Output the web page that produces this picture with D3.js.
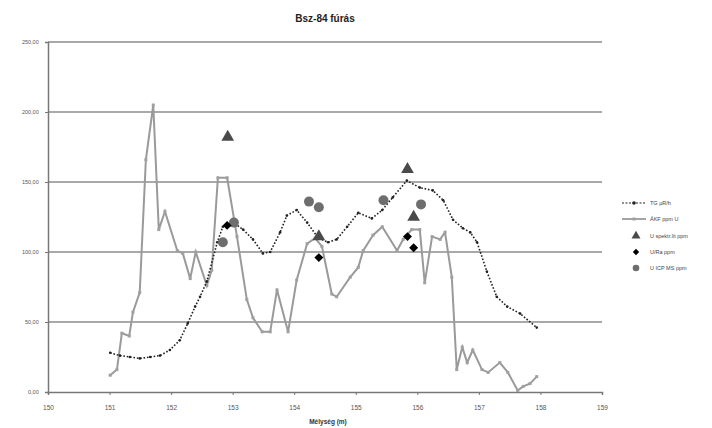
<!DOCTYPE html>
<html><head><meta charset="utf-8">
<script src="https://cdn.jsdelivr.net/npm/d3@7"></script>
<style>body{margin:0;background:#fff}svg{font-family:"Liberation Sans",Arial,sans-serif}</style>
</head><body><svg id="c" width="712" height="428"></svg>
<script>
const title = "Bsz-84 fúrás";
const xTitle = "Mélység (m)";
const xTicks = [150,151,152,153,154,155,156,157,158,159];
const yTicks = [0,50,100,150,200,250];
const seriesNames = ["TG  µR/h","ÁKF ppm U","U spektr.lit ppm","U/Ra     ppm","U ICP MS ppm"];

const tgDepth = [151.01,151.17,151.33,151.49,151.66,151.82,151.98,152.14,152.27,152.39,152.47,152.58,152.75,152.84,153.01,153.17,153.33,153.49,153.61,153.77,153.88,154.04,154.21,154.39,154.55,154.69,154.86,155.04,155.26,155.43,155.60,155.83,156.04,156.25,156.42,156.58,156.74,156.86,156.97,157.13,157.29,157.46,157.67,157.94];
const tgVal   = [28,26,25,24,25,26,30,37,49,61,68,79,107,118,121,116,109,99,100,114,126,130,121,110,107,109,118,128,124,130,139,151,146,144,137,123,117,114,107,86,68,61,56,46];

const akfDepth = [151.01,151.12,151.20,151.32,151.38,151.49,151.59,151.71,151.80,151.90,152.10,152.19,152.31,152.40,152.58,152.66,152.76,152.91,153.07,153.23,153.33,153.48,153.61,153.72,153.90,154.04,154.21,154.34,154.45,154.61,154.69,154.91,155.04,155.12,155.28,155.43,155.67,155.77,155.91,156.04,156.12,156.24,156.37,156.45,156.56,156.64,156.73,156.81,156.90,157.05,157.15,157.34,157.47,157.63,157.72,157.83,157.94];
const akfVal   = [12,16,42,40,57,71,166,205,116,129,101,99,81,100,76,87,153,153,111,66,53,43,43,73,43,80,106,110,104,70,68,82,89,101,112,118,101,109,116,116,78,111,109,114,82,16,32,21,30,16,14,21,14,1,4,6,11];

const triDepth = [152.92,154.40,155.84,155.94];
const triVal   = [182,111,159,125];
const diaDepth = [152.91,154.40,155.84,155.94];
const diaVal   = [119,96,111,103];
const cirDepth = [152.84,153.02,154.24,154.40,155.45,156.06];
const cirVal   = [107,121,136,132,137,134];

const svg = d3.select("#c");
const x = d3.scaleLinear().domain([150,159]).range([48,602]);
const y = d3.scaleLinear().domain([0,250]).range([392,42]);

// grid
svg.append("g").selectAll("line").data(yTicks.filter(d=>d>0)).join("line")
  .attr("x1",x(150)).attr("x2",x(159)).attr("y1",d=>y(d)).attr("y2",d=>y(d))
  .attr("stroke","#8c8c8c").attr("stroke-width",1.5);

// axes
const xa = svg.append("g").attr("transform",`translate(0,${y(0)})`)
  .call(d3.axisBottom(x).tickValues(xTicks).tickSize(3).tickFormat(d3.format("d")));
xa.select(".domain").attr("stroke","#777").attr("stroke-width",1.5);
xa.selectAll(".tick line").attr("stroke","#777");
xa.selectAll("text").attr("font-size",6.5).attr("fill","#555").attr("dy","1.8em");
const ya = svg.append("g").attr("transform",`translate(${x(150)},0)`)
  .call(d3.axisLeft(y).tickValues(yTicks).tickSize(3).tickFormat(d=>d3.format(".2f")(d).replace(".",",")));
ya.select(".domain").attr("stroke","#777").attr("stroke-width",1.5);
ya.selectAll(".tick line").attr("stroke","#777");
ya.selectAll("text").attr("font-size",5.5).attr("fill","#555").attr("dx","-0.6em");

// title
svg.append("text").attr("x",325).attr("y",22).attr("text-anchor","middle")
  .attr("font-size",10).attr("font-weight","bold").attr("fill","#222").text(title);
svg.append("text").attr("x",328).attr("y",424).attr("text-anchor","middle")
  .attr("font-size",6.5).attr("font-weight","bold").attr("fill","#333").text(xTitle);

const line = d3.line().x(d=>x(d[0])).y(d=>y(d[1]));
const akf = akfDepth.map((d,i)=>[d,akfVal[i]]);
const tg = tgDepth.map((d,i)=>[d,tgVal[i]]);

svg.append("path").datum(akf).attr("d",line).attr("fill","none")
  .attr("stroke","#9a9a9a").attr("stroke-width",2);
svg.append("g").selectAll("rect").data(akf).join("rect")
  .attr("x",d=>x(d[0])-1.5).attr("y",d=>y(d[1])-1.5).attr("width",3).attr("height",3).attr("fill","#a0a0a0");

svg.append("path").datum(tg).attr("d",line).attr("fill","none")
  .attr("stroke","#222").attr("stroke-width",1.6).attr("stroke-dasharray","1.6,1.8");
svg.append("g").selectAll("circle").data(tg).join("circle")
  .attr("cx",d=>x(d[0])).attr("cy",d=>y(d[1])).attr("r",1.3).attr("fill","#222");

const tri = d3.symbol().type(d3.symbolTriangle).size(70);
const sq = d3.symbol().type(d3.symbolSquare).size(40);
svg.append("g").selectAll("path").data(cirDepth.map((d,i)=>[d,cirVal[i]])).join("circle")
  .attr("cx",d=>x(d[0])).attr("cy",d=>y(d[1])).attr("r",5).attr("fill","#6e6e6e");
svg.append("g").selectAll("path").data(triDepth.map((d,i)=>[d,triVal[i]])).join("path")
  .attr("d",tri).attr("transform",d=>`translate(${x(d[0])},${y(d[1])})`).attr("fill","#4a4a4a");
svg.append("g").selectAll("path").data(diaDepth.map((d,i)=>[d,diaVal[i]])).join("path")
  .attr("d",sq).attr("transform",d=>`translate(${x(d[0])},${y(d[1])}) rotate(45)`).attr("fill","#000");

// legend
const lg = svg.append("g").attr("transform","translate(622,203)");
const rows = [0,16,33,49,65];
seriesNames.forEach((n,i)=>{
  const g = lg.append("g").attr("transform",`translate(0,${rows[i]})`);
  if(i===0){
    g.append("line").attr("x1",0).attr("x2",24).attr("stroke","#222").attr("stroke-width",1.2).attr("stroke-dasharray","2,1.5");
    g.append("circle").attr("cx",12).attr("r",1.8).attr("fill","#222");
  } else if(i===1){
    g.append("line").attr("x1",0).attr("x2",24).attr("stroke","#9a9a9a").attr("stroke-width",1.8);
    g.append("rect").attr("x",10.5).attr("y",-1.5).attr("width",3).attr("height",3).attr("fill","#a0a0a0");
  } else if(i===2){
    g.append("path").attr("d",d3.symbol().type(d3.symbolTriangle).size(35)).attr("transform","translate(14,0)").attr("fill","#4a4a4a");
  } else if(i===3){
    g.append("path").attr("d",d3.symbol().type(d3.symbolSquare).size(20)).attr("transform","translate(14,0) rotate(45)").attr("fill","#000");
  } else {
    g.append("circle").attr("cx",14).attr("r",3.3).attr("fill","#6e6e6e");
  }
  g.append("text").attr("x",28).attr("y",2).attr("font-size",5.5).attr("fill","#444").text(n);
});
</script></body></html>
